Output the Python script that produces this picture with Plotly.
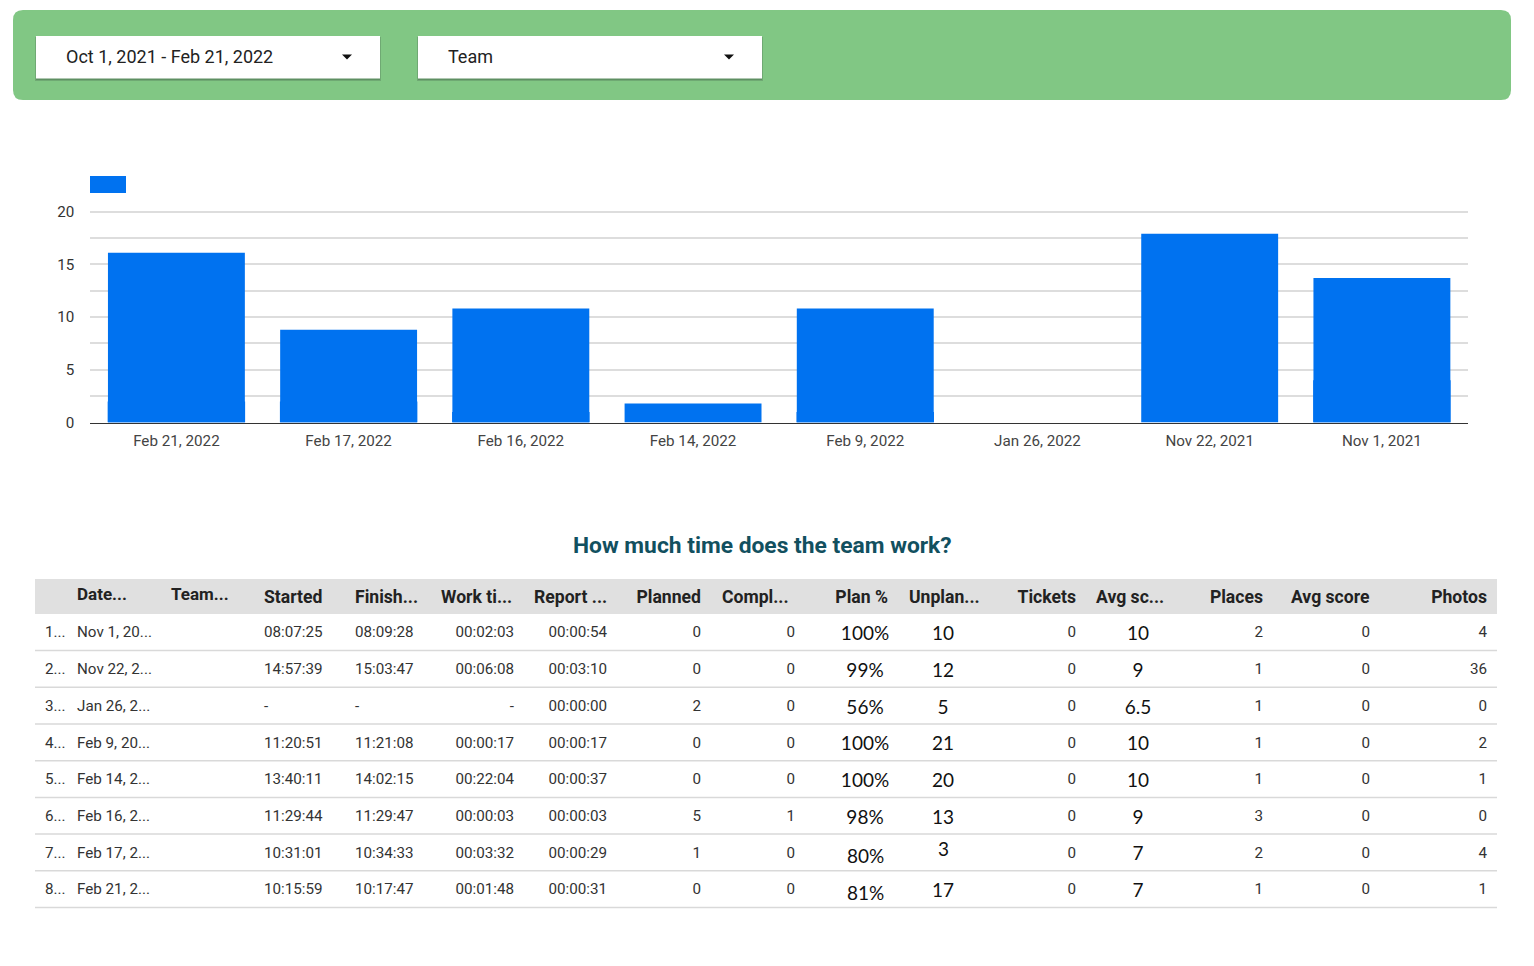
import plotly.graph_objects as go

W, H = 1534, 966

# bar chart
dates = ["Feb 21, 2022", "Feb 17, 2022", "Feb 16, 2022", "Feb 14, 2022",
         "Feb 9, 2022", "Jan 26, 2022", "Nov 22, 2021", "Nov 1, 2021"]
work_back = [2, 2, 1, 0, 1, 0, 0, 4]
work_front = [16.1, 8.8, 10.8, 1.8, 10.8, 0, 17.9, 13.7]

# table columns
col_num = ["1...", "2...", "3...", "4...", "5...", "6...", "7...", "8..."]
col_date = ["Nov\u00a01,\u00a020...", "Nov\u00a022,\u00a02...", "Jan\u00a026,\u00a02...", "Feb\u00a09,\u00a020...",
            "Feb\u00a014,\u00a02...", "Feb\u00a016,\u00a02...", "Feb\u00a017,\u00a02...", "Feb\u00a021,\u00a02..."]
col_started = ["08:07:25", "14:57:39", "-", "11:20:51", "13:40:11", "11:29:44", "10:31:01", "10:15:59"]
col_finish = ["08:09:28", "15:03:47", "-", "11:21:08", "14:02:15", "11:29:47", "10:34:33", "10:17:47"]
col_work = ["00:02:03", "00:06:08", "-", "00:00:17", "00:22:04", "00:00:03", "00:03:32", "00:01:48"]
col_report = ["00:00:54", "00:03:10", "00:00:00", "00:00:17", "00:00:37", "00:00:03", "00:00:29", "00:00:31"]
col_planned = [0, 0, 2, 0, 0, 5, 1, 0]
col_compl = [0, 0, 0, 0, 0, 1, 0, 0]
col_plan_pct = ["100%", "99%", "56%", "100%", "100%", "98%", "80%", "81%"]
col_unplan = ["10", "12", "5", "21", "20", "13", "3", "17"]
col_tickets = [0, 0, 0, 0, 0, 0, 0, 0]
col_avg1 = ["10", "9", "6.5", "10", "10", "9", "7", "7"]
col_places = [2, 1, 1, 1, 1, 3, 2, 1]
col_avg2 = [0, 0, 0, 0, 0, 0, 0, 0]
col_photos = [4, 36, 0, 2, 1, 0, 4, 1]

blank = [""] * 8
NB = "\u00a0"
SMALL = dict(family="Roboto", size=15.2, color="#333333")
BIG = dict(family="Lato", size=19, color="#111111")


def px(x):
    return x / W


def py(y):
    return 1 - y / H


# (header, values, header align, cell align, column width, cell font)
# the empty columns are just gaps, plotly tables have a fixed cell padding
columns = [
    ("", blank, "left", "left", 2, SMALL),
    ("", col_num, "left", "left", 32, SMALL),
    ("", col_date, "left", "left", 94, SMALL),
    ("", blank, "left", "left", 93, SMALL),
    ("Started", col_started, "left", "left", 91, SMALL),
    ("Finish...", col_finish, "left", "left", 86, SMALL),
    ("Work ti...", col_work, "left", "right", 89, SMALL),
    ("", blank, "left", "left", 4, SMALL),
    ("Report ...", col_report, "left", "right", 89, SMALL),
    ("Planned", col_planned, "right", "right", 94, SMALL),
    ("", blank, "left", "left", 5, SMALL),
    ("Compl...", col_compl, "left", "right", 89, SMALL),
    ("", blank, "left", "left", 31, SMALL),
    ("Plan %", col_plan_pct[:6] + ["", ""], "right", "center", 62, BIG),
    ("", blank, "left", "left", 5, SMALL),
    ("Unplan...", col_unplan[:6] + ["", col_unplan[7]], "left", "center", 84, BIG),
    ("Tickets", col_tickets, "right", "right", 99, SMALL),
    ("", blank, "left", "left", 4, SMALL),
    ("Avg sc...", col_avg1, "left", "center", 100, BIG),
    ("Places", col_places, "right", "right", 83, SMALL),
    ("Avg score", col_avg2, "right", "right", 107, SMALL),
    ("Photos", col_photos, "right", "right", 117, SMALL),
    ("", blank, "left", "left", 2, SMALL),
]

fig = go.Figure()

fig.add_trace(go.Bar(x=dates, y=work_back, width=0.798, marker=dict(color="#0072f0", line_width=0), showlegend=False))
fig.add_trace(go.Bar(x=dates, y=work_front, width=0.795, marker=dict(color="#0072f0", line_width=0), showlegend=False))

fig.add_trace(go.Table(
    domain=dict(x=[px(35), px(1497)], y=[py(925), py(578.5)]),
    columnwidth=[c[4] for c in columns],
    header=dict(
        values=["<b>" + c[0].replace(" ", NB) + "</b>" if c[0] else "" for c in columns],
        align=[c[2] for c in columns],
        height=39.5,
        fill_color="rgba(0,0,0,0)",
        line=dict(color="rgba(0,0,0,0)", width=0),
        font=dict(family="Roboto", size=17.6, color="#222222"),
    ),
    cells=dict(
        values=[c[1] for c in columns],
        align=[c[3] for c in columns],
        height=36.7,
        fill_color="rgba(0,0,0,0)",
        line=dict(color="rgba(0,0,0,0)", width=0),
        font=dict(
            family=[c[5]["family"] for c in columns],
            size=[c[5]["size"] for c in columns],
            color=[c[5]["color"] for c in columns],
        ),
    ),
))

# filter bar, drop-downs, legend swatch, table header band and row rules
shapes = [
    dict(type="path", xref="paper", yref="paper", fillcolor="#81c784", line_width=0,
         path=f"M {px(23)} {py(10)} L {px(1501)} {py(10)} Q {px(1511)} {py(10)} {px(1511)} {py(20)} "
              f"L {px(1511)} {py(90)} Q {px(1511)} {py(100)} {px(1501)} {py(100)} "
              f"L {px(23)} {py(100)} Q {px(13)} {py(100)} {px(13)} {py(90)} "
              f"L {px(13)} {py(20)} Q {px(13)} {py(10)} {px(23)} {py(10)} Z"),
    dict(type="rect", xref="paper", yref="paper", x0=px(90), x1=px(126), y0=py(193), y1=py(176),
         fillcolor="#0072f0", line_width=0),
    dict(type="rect", xref="paper", yref="paper", x0=px(35), x1=px(1497), y0=py(614), y1=py(579),
         fillcolor="#e0e0e0", line_width=0, layer="below"),
]
for x0, x1 in ((36, 380), (418, 762)):
    shapes.append(dict(type="rect", xref="paper", yref="paper", x0=px(x0 - 1), x1=px(x1 + 1), y0=py(81), y1=py(37),
                       fillcolor="#6fa973", line_width=0))
    shapes.append(dict(type="rect", xref="paper", yref="paper", x0=px(x0), x1=px(x1), y0=py(80), y1=py(36),
                       fillcolor="#5e8f62", line_width=0))
    shapes.append(dict(type="rect", xref="paper", yref="paper", x0=px(x0), x1=px(x1), y0=py(78.5), y1=py(36),
                       fillcolor="#ffffff", line_width=0))
    tx = x1 - 33
    shapes.append(dict(type="path", xref="paper", yref="paper", fillcolor="#111111", line_width=0,
                       path=f"M {px(tx - 5)} {py(54.5)} L {px(tx + 5)} {py(54.5)} L {px(tx)} {py(59.5)} Z"))
for y in (650.5, 687.2, 724, 760.7, 797.4, 834.1, 870.8, 907.5):
    shapes.append(dict(type="line", xref="paper", yref="paper", x0=px(35), x1=px(1497), y0=py(y), y1=py(y),
                       line=dict(color="#d9d9d9", width=1.5)))

annotations = [
    dict(text="Oct 1, 2021 - Feb 21, 2022", x=px(64), y=py(57), xanchor="left", yanchor="middle",
         font=dict(family="Roboto", size=18, color="#222222")),
    dict(text="Team", x=px(446), y=py(57), xanchor="left", yanchor="middle",
         font=dict(family="Roboto", size=18, color="#222222")),
    dict(text="<b>How much time does the team work?</b>", x=px(762.5), y=py(545), xanchor="center", yanchor="middle",
         font=dict(family="Roboto", size=22.8, color="#12505f")),
    # these two headers and three cells sit a little off their rows in the original
    dict(text="<b>Date...</b>", x=px(75), y=py(594), xanchor="left", yanchor="middle",
         font=dict(family="Roboto", size=17, color="#222222")),
    dict(text="<b>Team...</b>", x=px(169), y=py(594), xanchor="left", yanchor="middle",
         font=dict(family="Roboto", size=17, color="#222222")),
    dict(text=col_plan_pct[6], x=px(865.5), y=py(855), xanchor="center", yanchor="middle", font=BIG),
    dict(text=col_plan_pct[7], x=px(865.5), y=py(892), xanchor="center", yanchor="middle", font=BIG),
    dict(text=col_unplan[6], x=px(943), y=py(848), xanchor="center", yanchor="middle", font=BIG),
]
for a in annotations:
    a.update(xref="paper", yref="paper", showarrow=False)

fig.update_layout(
    width=W,
    height=H,
    margin=dict(l=0, r=0, t=0, b=0, autoexpand=False),
    paper_bgcolor="white",
    plot_bgcolor="white",
    barmode="overlay",
    shapes=shapes,
    annotations=annotations,
    font=dict(family="Roboto"),
    xaxis=dict(
        domain=[px(90.3), px(1468)],
        type="category",
        categoryorder="array",
        categoryarray=dates,
        showgrid=False,
        showline=True,
        linecolor="#333333",
        linewidth=1.3,
        ticks="outside",
        ticklen=4,
        tickcolor="rgba(0,0,0,0)",
        tickfont=dict(family="Roboto", size=15.2, color="#444444"),
    ),
    yaxis=dict(
        # a little headroom so the gridline at 20 is not dropped at the axis end
        domain=[py(422.5), py(209.4)],
        range=[0, 20.2],
        tickvals=[0, 5, 10, 15, 20],
        showgrid=True,
        gridcolor="#dddddd",
        gridwidth=1.5,
        zeroline=False,
        minor=dict(dtick=2.5, showgrid=True, gridcolor="#dddddd", gridwidth=1.5),
        ticks="outside",
        ticklen=12,
        tickcolor="rgba(0,0,0,0)",
        tickfont=dict(family="Roboto", size=15.2, color="#333333"),
    ),
)

fig.write_html("out.html", config=dict(displayModeBar=False), post_script="document.body.style.margin='0';")
